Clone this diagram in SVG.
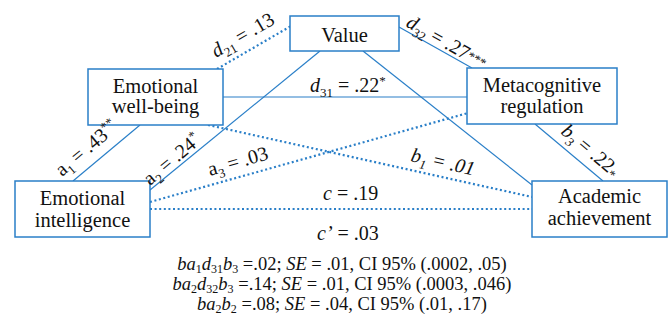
<svg xmlns="http://www.w3.org/2000/svg" width="670" height="329" viewBox="0 0 670 329">
<style>
.box{fill:#fff;stroke:#2a7fc8;stroke-width:1.5}
.ln{stroke:#2a7fc8;stroke-width:1.2;fill:none}
.dt{stroke:#2a7fc8;stroke-width:2.2;fill:none;stroke-dasharray:2 2.6}
.t{font-family:"Liberation Serif","DejaVu Serif",serif;font-size:20.5px;fill:#111;text-anchor:middle}
.lb{font-family:"Liberation Serif","DejaVu Serif",serif;font-size:20px;fill:#111}
.f{font-family:"Liberation Serif","DejaVu Serif",serif;font-size:18.5px;fill:#111;text-anchor:middle}
.i{font-style:italic}
.s{font-size:13px}
.fs{font-size:12px}
</style>
<rect width="670" height="329" fill="#fff"/>
<g id="connectors">
<line class="dt" x1="217" y1="69" x2="291" y2="26"/>
<line class="ln" x1="150" y1="190" x2="320" y2="51"/>
<line class="ln" x1="73" y1="181" x2="140" y2="125"/>
<line class="ln" x1="223" y1="97" x2="467" y2="97"/>
<line class="ln" x1="399" y1="27" x2="472" y2="68"/>
<line class="ln" x1="363" y1="51" x2="532" y2="185"/>
<line class="ln" x1="535" y1="124" x2="603" y2="181"/>
<line class="dt" x1="208" y1="125" x2="532" y2="197"/>
<line class="dt" x1="150" y1="202" x2="468" y2="113"/>
<line class="dt" x1="150" y1="209" x2="532" y2="209"/>
</g>
<g id="value"><rect class="box" x="290" y="16" width="109" height="35"/><text class="t" x="344.5" y="42">Value</text></g>
<g id="ewb"><rect class="box" x="88" y="69" width="135" height="56"/><text class="t" x="155.5" y="93">Emotional</text><text class="t" x="155.5" y="113">well-being</text></g>
<g id="meta"><rect class="box" x="467" y="68" width="150" height="56"/><text class="t" x="542" y="92">Metacognitive</text><text class="t" x="542" y="113">regulation</text></g>
<g id="ei"><rect class="box" x="15" y="181" width="135" height="56"/><text class="t" x="82.5" y="205">Emotional</text><text class="t" x="82.5" y="227">intelligence</text></g>
<g id="aa"><rect class="box" x="532" y="181" width="135" height="56"/><text class="t" x="599.5" y="203">Academic</text><text class="t" x="599.5" y="225">achievement</text></g>
<g id="labels">
<text class="lb" transform="translate(216,58) rotate(-30)"><tspan class="i">d</tspan><tspan class="s" dy="5">21</tspan><tspan dy="-5"> = .13</tspan></text>
<text class="lb" x="310" y="92"><tspan class="i">d</tspan><tspan class="s" dy="5">31</tspan><tspan dy="-5"> = .22</tspan><tspan class="s" dy="-7">*</tspan></text>
<text class="lb" transform="translate(405,26) rotate(29.5)"><tspan class="i">d</tspan><tspan class="s" dy="5">32</tspan><tspan dy="-5"> = .27</tspan><tspan class="s" dy="-2">***</tspan></text>
<text class="lb" transform="translate(62,177) rotate(-40)">a<tspan class="s" dy="5">1</tspan><tspan dy="-5"> = .43</tspan><tspan class="s" dy="-7">**</tspan></text>
<text class="lb" transform="translate(150,186) rotate(-40)">a<tspan class="s" dy="5">2</tspan><tspan dy="-5"> = .24</tspan><tspan class="s" dy="-7">*</tspan></text>
<text class="lb" transform="translate(210,176) rotate(-16)">a<tspan class="s" dy="5">3</tspan><tspan dy="-5"> = .03</tspan></text>
<text class="lb i" transform="translate(410,161) rotate(13)">b<tspan class="s" dy="5">1</tspan><tspan dy="-5"> = .01</tspan></text>
<text class="lb" transform="translate(560,133) rotate(40)"><tspan class="i">b</tspan><tspan class="s i" dy="5">3</tspan><tspan dy="-5"> = .22</tspan><tspan class="s" dy="3">*</tspan></text>
<text class="lb" x="323" y="200"><tspan class="i">c</tspan> = .19</text>
<text class="lb" x="317" y="240"><tspan class="i">c’</tspan> = .03</text>
</g>
<g id="formulas">
<text class="f" x="342" y="270"><tspan class="i">ba</tspan><tspan class="fs" dy="3">1</tspan><tspan class="i" dy="-3">d</tspan><tspan class="fs" dy="3">31</tspan><tspan class="i" dy="-3">b</tspan><tspan class="fs" dy="3">3</tspan><tspan dy="-3"> =.02; </tspan><tspan class="i">SE</tspan> = .01, CI 95% (.0002, .05)</text>
<text class="f" x="342" y="290"><tspan class="i">ba</tspan><tspan class="fs" dy="3">2</tspan><tspan class="i" dy="-3">d</tspan><tspan class="fs" dy="3">32</tspan><tspan class="i" dy="-3">b</tspan><tspan class="fs" dy="3">3</tspan><tspan dy="-3"> =.14; </tspan><tspan class="i">SE</tspan> = .01, CI 95% (.0003, .046)</text>
<text class="f" x="342" y="310"><tspan class="i">ba</tspan><tspan class="fs" dy="3">2</tspan><tspan class="i" dy="-3">b</tspan><tspan class="fs" dy="3">2</tspan><tspan dy="-3"> =.08; </tspan><tspan class="i">SE</tspan> = .04, CI 95% (.01, .17)</text>
</g>
</svg>
